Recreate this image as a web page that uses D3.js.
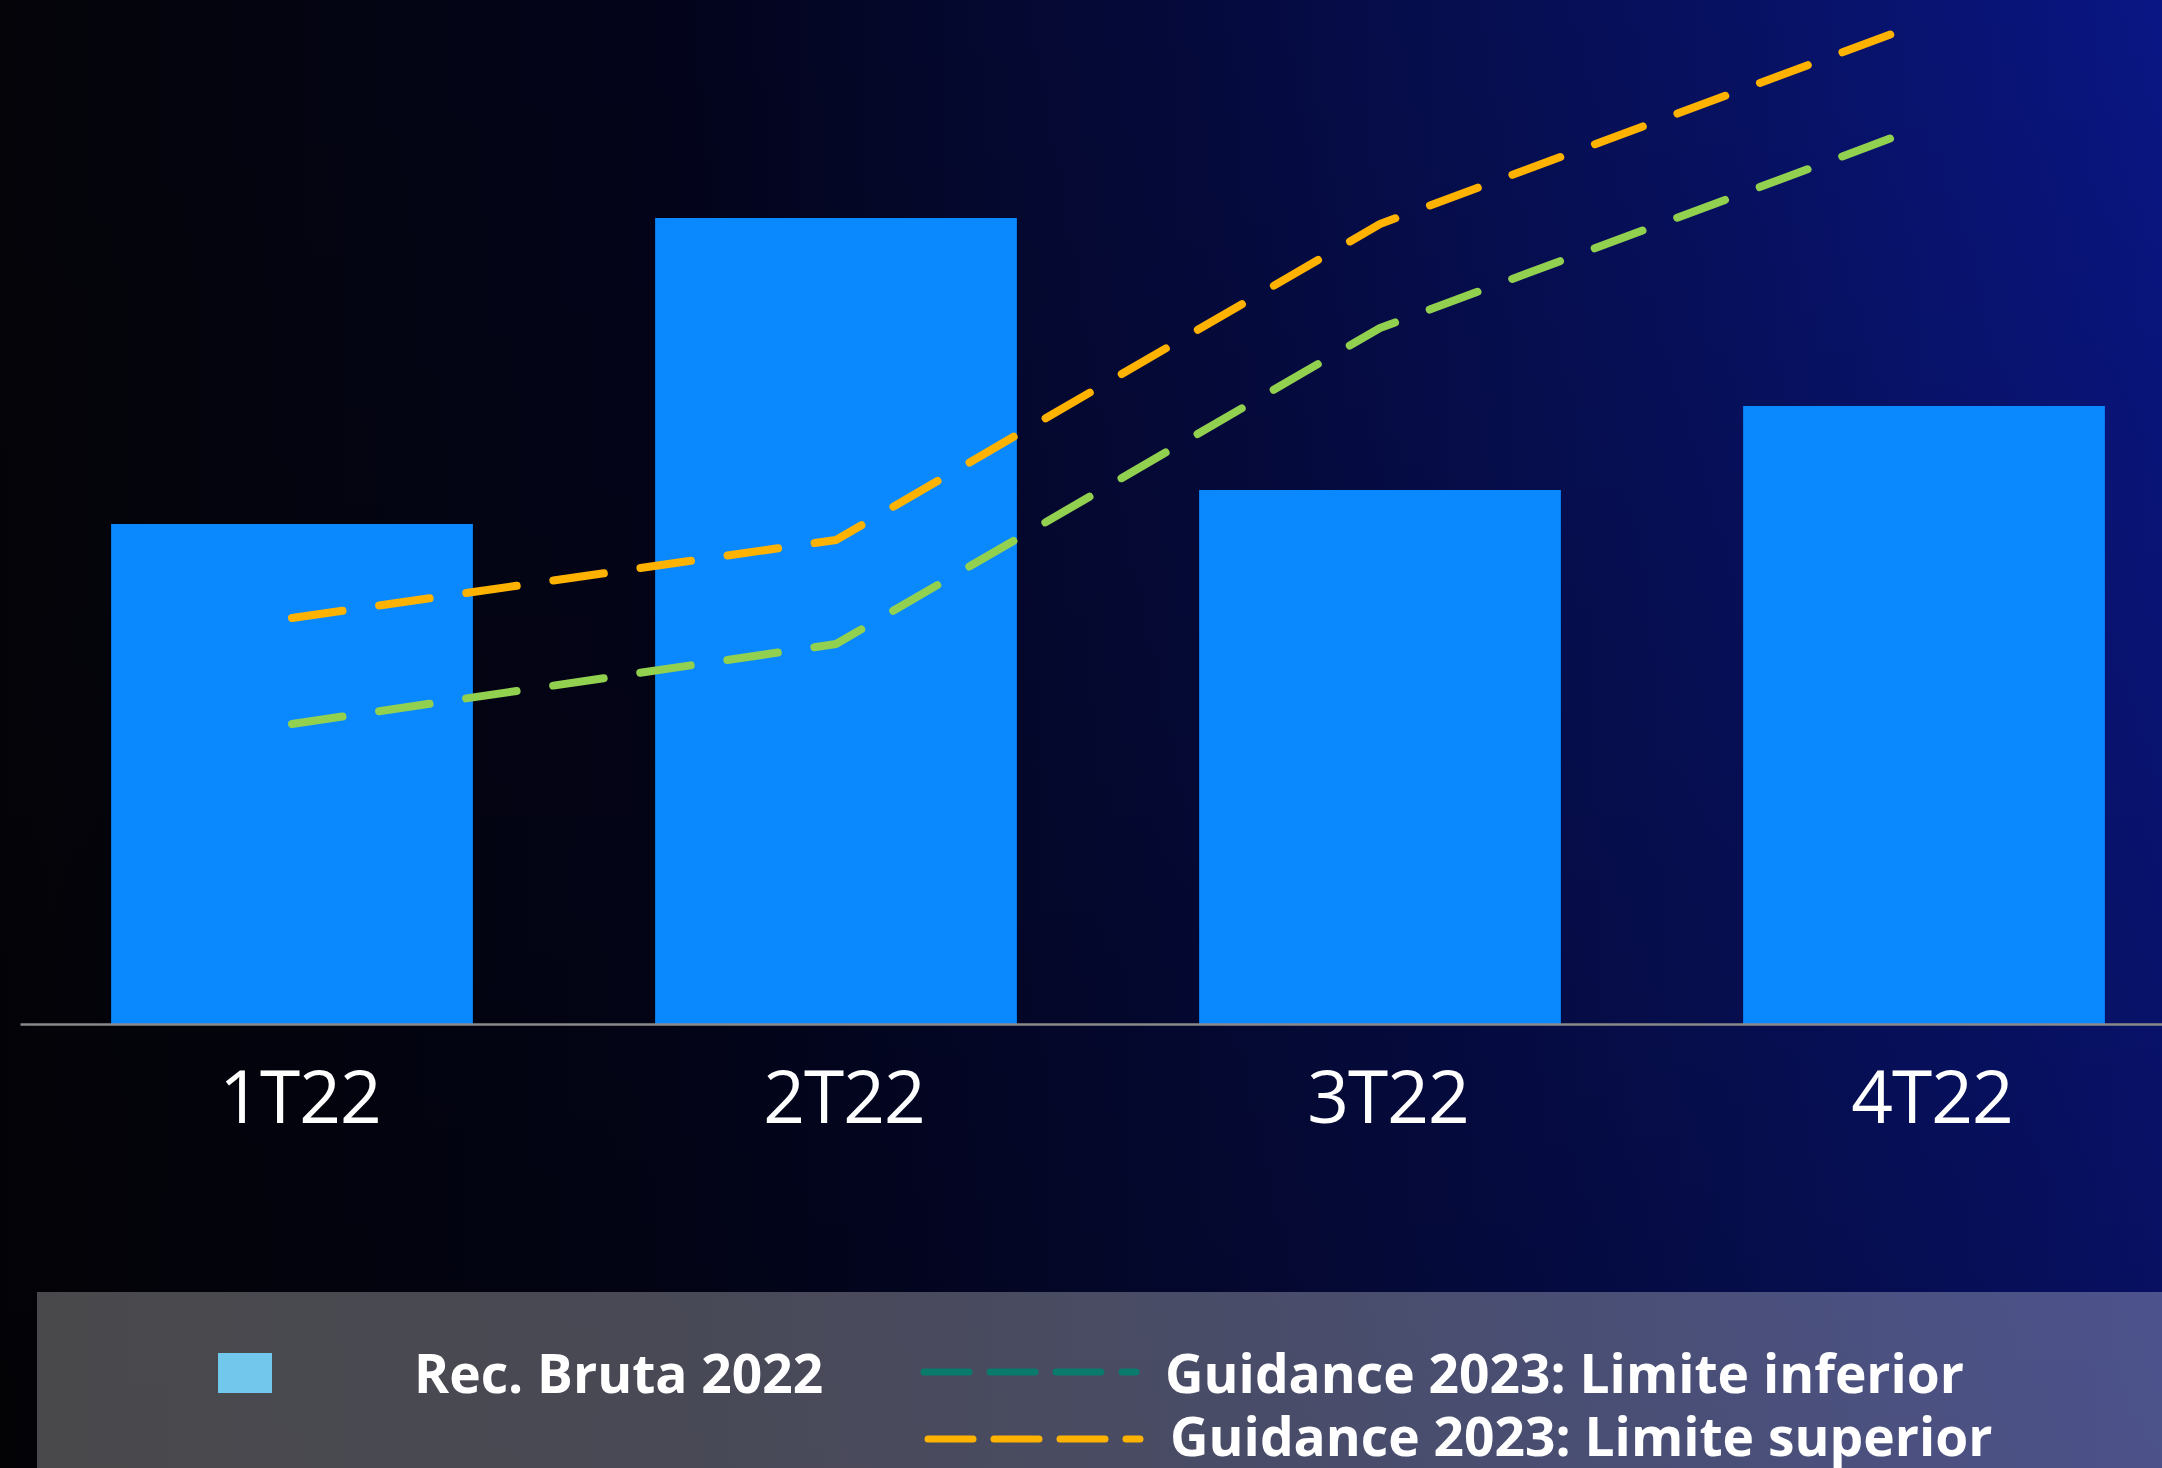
<!DOCTYPE html>
<html>
<head>
<meta charset="utf-8">
<script src="https://cdn.jsdelivr.net/npm/d3@7"></script>
<style>
  html, body { margin: 0; padding: 0; background: #040409; }
  svg { display: block; }
</style>
</head>
<body>
<div id="chart"></div>
<script>
// Quarterly gross revenue 2022 (bars) and 2023 guidance range (dashed lines)
const quarters = ["1T22", "2T22", "3T22", "4T22"];
const recBruta2022 = [2.50, 4.03, 2.67, 3.09];
const guidanceInferior = [1.50, 1.90, 3.48, 4.49];
const guidanceSuperior = [2.03, 2.42, 4.00, 5.01];
const legendLabels = ["Rec. Bruta 2022", "Guidance 2023: Limite inferior", "Guidance 2023: Limite superior"];

const W = 2162, H = 1468;
const baseY = 1024;

const svg = d3.select("#chart").append("svg")
  .attr("width", W).attr("height", H);

const defs = svg.append("defs");
const bgH = defs.append("linearGradient").attr("id", "bgH")
  .attr("x1", 0).attr("y1", 0).attr("x2", 1).attr("y2", 0);
bgH.append("stop").attr("offset", 0).attr("stop-color", "#040409");
bgH.append("stop").attr("offset", 0.3).attr("stop-color", "#03041a");
bgH.append("stop").attr("offset", 0.55).attr("stop-color", "#050a3c");
bgH.append("stop").attr("offset", 0.8).attr("stop-color", "#071162");
bgH.append("stop").attr("offset", 1).attr("stop-color", "#0a1684");

const bgV = defs.append("linearGradient").attr("id", "bgV")
  .attr("x1", 0).attr("y1", 0).attr("x2", 0).attr("y2", 1);
bgV.append("stop").attr("offset", 0).attr("stop-color", "#000").attr("stop-opacity", 0);
bgV.append("stop").attr("offset", 1).attr("stop-color", "#000").attr("stop-opacity", 0.3);

svg.append("rect").attr("width", W).attr("height", H).attr("fill", "url(#bgH)");
svg.append("rect").attr("width", W).attr("height", H).attr("fill", "url(#bgV)");

// Scales
const x = d3.scaleBand()
  .domain(quarters)
  .range([20, 2196])
  .paddingInner(0.335)
  .paddingOuter(0.1675);

const y = d3.scaleLinear()
  .domain([0, 5.12])
  .range([baseY, 0]);

// Bars
svg.append("g").selectAll("rect")
  .data(quarters.map((q, i) => ({ q, v: recBruta2022[i] })))
  .join("rect")
  .attr("x", d => x(d.q))
  .attr("y", d => y(d.v))
  .attr("width", x.bandwidth())
  .attr("height", d => y(0) - y(d.v))
  .attr("fill", "#0a89ff");

// Category axis
const axis = svg.append("g")
  .attr("transform", `translate(0,${baseY})`)
  .call(d3.axisBottom(x).tickSize(0).tickSizeOuter(0).tickPadding(47));
axis.select(".domain").attr("stroke", "#8a8a8a").attr("stroke-width", 2.5);
axis.selectAll(".tick text")
  .attr("fill", "#ffffff")
  .attr("dx", 8)
  .style("font-family", "'Open Sans', sans-serif")
  .style("font-weight", 400)
  .style("font-size", "73px")
  .style("letter-spacing", "-1px");

// Guidance lines
const line = d3.line()
  .x((d, i) => x(quarters[i]) + x.bandwidth() / 2)
  .y(d => y(d));

const series = [
  { values: guidanceInferior, color: "#92d050" },
  { values: guidanceSuperior, color: "#ffb300" }
];
svg.append("g").selectAll("path")
  .data(series)
  .join("path")
  .attr("d", d => line(d.values))
  .attr("fill", "none")
  .attr("stroke", d => d.color)
  .attr("stroke-width", 8)
  .attr("stroke-linecap", "round")
  .attr("stroke-linejoin", "round")
  .attr("stroke-dasharray", "51,37");

// Legend panel
const legend = svg.append("g");
legend.append("rect")
  .attr("x", 37).attr("y", 1292)
  .attr("width", W - 37).attr("height", H - 1292)
  .attr("fill", "#ffffff").attr("fill-opacity", 0.28);

const legendFont = sel => sel
  .attr("fill", "#ffffff")
  .style("font-family", "'Open Sans', sans-serif")
  .style("font-weight", 700)
  .style("font-size", "53.3px");

legend.append("rect")
  .attr("x", 218).attr("y", 1353)
  .attr("width", 54).attr("height", 40)
  .attr("fill", "#72c7ec");
legend.append("text")
  .attr("x", 414).attr("y", 1393)
  .text(legendLabels[0]).call(legendFont);

legend.append("line")
  .attr("x1", 924).attr("x2", 1136)
  .attr("y1", 1372).attr("y2", 1372)
  .attr("stroke", "#0a7a6c").attr("stroke-width", 7)
  .attr("stroke-linecap", "round")
  .attr("stroke-dasharray", "45,21");
legend.append("text")
  .attr("x", 1165).attr("y", 1393)
  .text(legendLabels[1]).call(legendFont);

legend.append("line")
  .attr("x1", 928).attr("x2", 1140)
  .attr("y1", 1439).attr("y2", 1439)
  .attr("stroke", "#ffb300").attr("stroke-width", 7)
  .attr("stroke-linecap", "round")
  .attr("stroke-dasharray", "45,21");
legend.append("text")
  .attr("x", 1170).attr("y", 1456)
  .text(legendLabels[2]).call(legendFont);
</script>
</body>
</html>
